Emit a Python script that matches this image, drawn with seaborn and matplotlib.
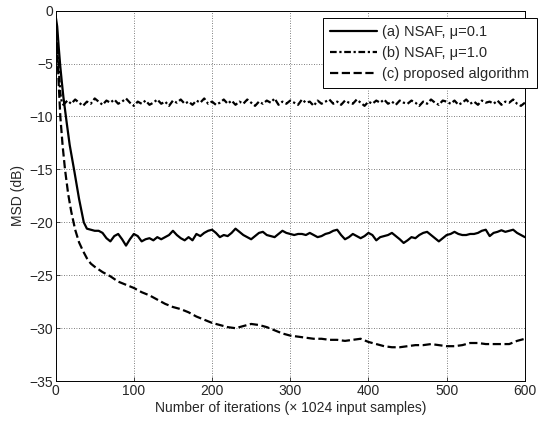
import matplotlib
matplotlib.use("Agg")
import matplotlib.pyplot as plt
import seaborn as sns

# (a) NSAF, mu=0.1
iters_a = [0, 2, 4, 6, 8, 10, 14, 18, 24, 30, 36, 40, 45] + list(range(50, 601, 5))
msd_a = [-0.5, -1.5, -3.5, -5.3, -6.8, -8.2, -10.5, -12.7, -15.2, -17.8, -20.0, -20.6, -20.7,
         -20.8, -20.8, -21.0, -21.5, -21.8, -21.3, -21.1, -21.6, -22.2, -21.6,
         -21.1, -21.3, -21.8, -21.6, -21.5, -21.7, -21.4, -21.6, -21.4, -21.2,
         -20.8, -21.2, -21.5, -21.7, -21.4, -21.7, -21.1, -21.3, -21.0, -20.8,
         -20.7, -21.0, -21.4, -21.2, -21.3, -21.0, -20.6, -20.9, -21.2, -21.4,
         -21.6, -21.3, -21.0, -20.9, -21.2, -21.3, -21.4, -21.1, -20.8, -21.0,
         -21.1, -21.2, -21.1, -21.1, -21.2, -21.0, -21.2, -21.4, -21.3, -21.1,
         -21.0, -20.8, -20.7, -21.2, -21.6, -21.4, -21.1, -21.3, -21.5, -21.3,
         -21.0, -21.2, -21.7, -21.4, -21.3, -21.2, -21.0, -21.3, -21.6, -21.95,
         -21.7, -21.4, -21.5, -21.2, -21.0, -20.9, -21.2, -21.5, -21.8, -21.5,
         -21.2, -21.1, -20.9, -21.1, -21.2, -21.2, -21.1, -21.1, -21.0, -20.8,
         -20.7, -21.3, -21.0, -20.9, -20.75, -20.9, -20.8, -20.7, -21.0, -21.2,
         -21.4]

# (b) NSAF, mu=1.0
iters_b = [0, 2, 4, 6, 8] + list(range(10, 601, 5))
msd_b = [-0.8, -3.0, -5.5, -7.8, -8.7,
         -8.9, -8.5, -8.8, -8.4, -8.7, -9.0, -8.6, -8.8, -8.3, -8.6,
         -8.9, -8.5, -8.7, -8.4, -8.8, -8.6, -8.3, -8.7, -9.0, -8.6,
         -8.8, -8.5, -8.9, -8.7, -8.4, -8.8, -8.6, -9.0, -8.5, -8.7,
         -8.4, -8.8, -8.6, -8.9, -8.5, -8.7, -8.3, -8.8, -8.6, -8.9,
         -8.7, -8.4, -8.8, -8.5, -8.9, -8.6, -8.8, -8.4, -8.7, -9.0,
         -8.6, -8.8, -8.5, -8.7, -8.3, -8.9, -8.6, -8.8, -8.5, -8.7,
         -8.9, -8.4, -8.7, -8.6, -9.0, -8.5, -8.8, -8.6, -8.4, -8.8,
         -8.6, -8.9, -8.5, -8.7, -8.8, -8.4, -8.7, -9.0, -8.6, -8.8,
         -8.5, -8.7, -8.4, -8.8, -8.6, -8.9, -8.5, -8.7, -8.8, -8.5,
         -8.7, -9.0, -8.6, -8.8, -8.4, -8.7, -8.9, -8.5, -8.6, -8.8,
         -8.5, -8.9, -8.7, -8.4, -8.8, -8.6, -8.9, -8.5, -8.7, -8.6,
         -8.8, -8.5, -8.9, -8.6, -8.7, -8.4, -8.8, -9.0, -8.7]

# (c) proposed algorithm
iters_c = [0, 2, 4, 6, 9, 12, 16, 20, 25, 30, 35, 40, 45] + list(range(50, 601, 10))
msd_c = [-0.8, -3.5, -7.0, -10.0, -12.8, -15.0, -17.3, -19.0, -20.7, -21.9, -22.7, -23.4, -23.9,
         -24.2, -24.7, -25.1, -25.6, -25.9, -26.2, -26.6, -26.9, -27.3, -27.7,
         -28.0, -28.2, -28.5, -28.9, -29.2, -29.5, -29.7, -29.9, -30.0, -29.8,
         -29.6, -29.7, -29.9, -30.2, -30.5, -30.7, -30.8, -30.9, -31.0, -31.0,
         -31.1, -31.1, -31.2, -31.1, -31.0, -31.3, -31.5, -31.7, -31.8, -31.8,
         -31.7, -31.6, -31.6, -31.5, -31.6, -31.7, -31.7, -31.6, -31.4, -31.4,
         -31.5, -31.5, -31.5, -31.5, -31.2, -31.0]

sns.set_style("ticks")
plt.rcParams['font.family'] = ['Liberation Sans', 'DejaVu Sans']

fig = plt.figure(figsize=(5.4, 4.23), dpi=100)
ax = fig.add_axes([0.103, 0.099, 0.869, 0.876])

sns.lineplot(x=iters_a, y=msd_a, ax=ax, color='k', linewidth=1.6, sort=False,
             label='(a) NSAF, \u03bc=0.1')
sns.lineplot(x=iters_b, y=msd_b, ax=ax, color='k', linewidth=1.6, sort=False,
             linestyle=(0, (3, 1.2, 1, 1.2)), label='(b) NSAF, \u03bc=1.0')
sns.lineplot(x=iters_c, y=msd_c, ax=ax, color='k', linewidth=1.6, sort=False,
             linestyle='--', label='(c) proposed algorithm')

ax.set_xlim(0, 600)
ax.set_ylim(-35, 0)
ax.set_xticks(range(0, 601, 100))
ax.set_yticks(range(-35, 1, 5))
ax.grid(True, linestyle=(0, (1, 2)), color='#555555', linewidth=0.6)
ax.tick_params(direction='in', labelsize=10, length=3, width=0.6, pad=2)
for s in ax.spines.values():
    s.set_linewidth(0.7)
    s.set_color('k')

ax.set_xlabel('Number of iterations (\u00d7 1024 input samples)', fontsize=10, labelpad=2)
ax.set_ylabel('MSD (dB)', fontsize=10, labelpad=3)

leg = ax.legend(loc='upper right', bbox_to_anchor=(0.994, 0.957),
                bbox_transform=fig.transFigure, fontsize=10.5, frameon=True,
                fancybox=False, edgecolor='k', framealpha=1, borderaxespad=0,
                handlelength=3.2, handletextpad=0.4, labelspacing=0.45,
                borderpad=0.5)
leg.get_frame().set_linewidth(0.7)

fig.savefig('out.png', dpi=100)
